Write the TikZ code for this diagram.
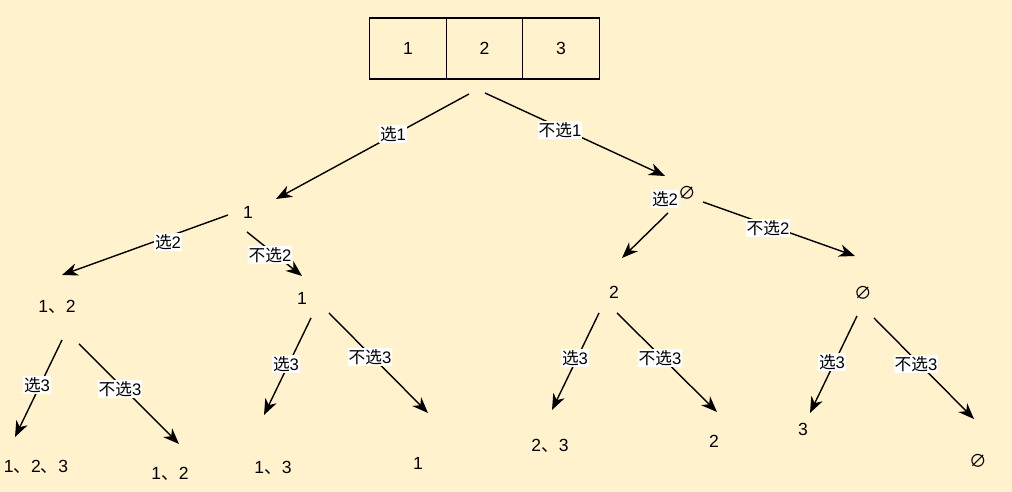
\documentclass[tikz,border=0pt]{standalone}
\usepackage{fontspec}
\setmainfont{Liberation Sans}
\newfontfamily\cjk{Noto Sans CJK SC}
\usetikzlibrary{arrows.meta,positioning}
\definecolor{paper}{RGB}{255,242,204}
\newcommand{\xuan}{{\cjk 选}}
\newcommand{\buxuan}{{\cjk 不选}}
\newcommand{\dun}{{\cjk 、}}
\newcommand{\nul}{{\cjk ∅}}

\begin{document}
\begin{tikzpicture}[
  x=0.02cm, y=-0.02cm,
  cell/.style={draw, line width=0.8pt, outer sep=0pt, minimum width=1.53cm, minimum height=1.22cm, font=\fontsize{10}{12}\selectfont},
  state/.style={inner sep=1pt, font=\fontsize{10}{12}\selectfont},
  lbl/.style={fill=white, inner sep=0.5pt, font=\fontsize{9.5}{11}\selectfont},
  arr/.style={-{Stealth[length=3.2mm, width=2.5mm, inset=1mm]}, line width=0.8pt}
]
\fill[paper] (0,0) rectangle (1012,492);
% the array
\node[cell] (c1) at (408,48.5) {1};
\node[cell, right=0pt of c1] (c2) {2};
\node[cell, right=0pt of c2] (c3) {3};
% tree states
\node[state] (s1) at (248,212) {1};
\node[state] (s0) at (687,193) {\nul};
\node[state] (s12) at (57,307) {1\dun 2};
\node[state] (s1b) at (302,298) {1};
\node[state] (s2) at (614,292) {2};
\node[state] (s00) at (863,293) {\nul};
\node[state] (s123) at (36,467) {1\dun 2\dun 3};
\node[state] (s12b) at (170,474) {1\dun 2};
\node[state] (s13) at (273,468) {1\dun 3};
\node[state] (s1c) at (418,463) {1};
\node[state] (s23) at (550,446) {2\dun 3};
\node[state] (s2b) at (714,441) {2};
\node[state] (s3) at (803,429) {3};
\node[state] (s000) at (978,461) {\nul};
% arrow ends
\coordinate (r1) at (469,94);   \coordinate (r1e) at (276,199);
\coordinate (r2) at (485,93);   \coordinate (r2e) at (665,176);
\coordinate (a1) at (228,215);  \coordinate (a1e) at (62,275);
\coordinate (a2) at (247,232);  \coordinate (a2e) at (302,276);
\coordinate (b1) at (668,213);  \coordinate (b1e) at (622,258);
\coordinate (b2) at (703,202);  \coordinate (b2e) at (855,256);
\coordinate (p1) at (62,340);   \coordinate (p1e) at (15,437);
\coordinate (p2) at (79,344);   \coordinate (p2e) at (179,444);
\coordinate (q1) at (311,318);  \coordinate (q1e) at (264,415);
\coordinate (q2) at (329,313);  \coordinate (q2e) at (428,413);
\coordinate (u1) at (599,313);  \coordinate (u1e) at (552,410);
\coordinate (u2) at (617,313);  \coordinate (u2e) at (717,412);
\coordinate (v1) at (857,316);  \coordinate (v1e) at (810,413);
\coordinate (v2) at (874,318);  \coordinate (v2e) at (974,419);
\draw[arr] (r1) -- (r1e);
\draw[arr] (r2) -- (r2e);
\draw[arr] (a1) -- (a1e);
\draw[arr] (a2) -- (a2e);
\draw[arr] (b1) -- (b1e);
\draw[arr] (b2) -- (b2e);
\draw[arr] (p1) -- (p1e);
\draw[arr] (p2) -- (p2e);
\draw[arr] (q1) -- (q1e);
\draw[arr] (q2) -- (q2e);
\draw[arr] (u1) -- (u1e);
\draw[arr] (u2) -- (u2e);
\draw[arr] (v1) -- (v1e);
\draw[arr] (v2) -- (v2e);
% edge labels
\node[lbl] (l1) at (393,134) {\xuan 1};
\node[lbl] (l2) at (560,130) {\buxuan 1};
\node[lbl] (l3) at (168,242) {\xuan 2};
\node[lbl] (l4) at (270,255) {\buxuan 2};
\node[lbl] (l5) at (665,199) {\xuan 2};
\node[lbl] (l6) at (768,228) {\buxuan 2};
\node[lbl] (l7) at (37,385) {\xuan 3};
\node[lbl] (l8) at (120,389) {\buxuan 3};
\node[lbl] (l9) at (286,364) {\xuan 3};
\node[lbl] (l10) at (370,357) {\buxuan 3};
\node[lbl] (l11) at (575,358) {\xuan 3};
\node[lbl] (l12) at (660,358) {\buxuan 3};
\node[lbl] (l13) at (832,362) {\xuan 3};
\node[lbl] (l14) at (916,364) {\buxuan 3};
\end{tikzpicture}
\end{document}
